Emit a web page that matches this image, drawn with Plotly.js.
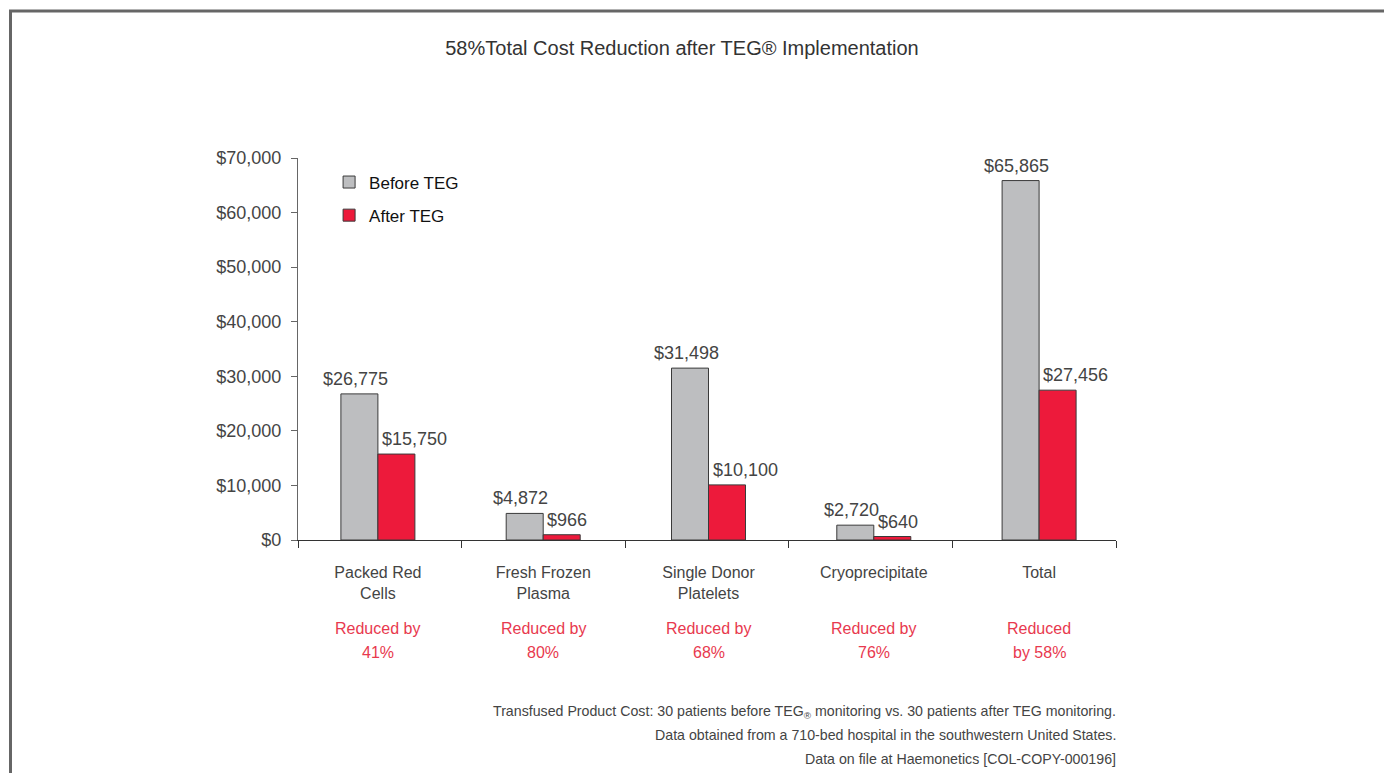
<!DOCTYPE html>
<html>
<head>
<meta charset="utf-8">
<script src="https://cdn.plot.ly/plotly-3.0.1.min.js"></script>
<style>
html,body{margin:0;padding:0;background:#fff;}
#chart{width:1384px;height:773px;}
</style>
</head>
<body>
<div id="chart"></div>
<script>
const categories = ["Packed Red<br>Cells", "Fresh Frozen<br>Plasma", "Single Donor<br>Platelets", "Cryoprecipitate", "Total"];
const beforeTEG = [26775, 4872, 31498, 2720, 65865];
const afterTEG = [15750, 966, 10100, 640, 27456];
const reductionLabels = ["Reduced by<br>41%", "Reduced by<br>80%", "Reduced by<br>68%", "Reduced by<br>76%", "Reduced<br>by 58%"];
const yTicks = [0, 10000, 20000, 30000, 40000, 50000, 60000, 70000];
const titleText = "58%Total Cost Reduction after TEG® Implementation";
const footnoteLines = [
  "Transfused Product Cost: 30 patients before TEG<sub>®</sub> monitoring vs. 30 patients after TEG monitoring.",
  "Data obtained from a 710-bed hospital in the southwestern United States.",
  "Data on file at Haemonetics [COL-COPY-000196]"
];

const FONT = "'Liberation Sans', Arial, sans-serif";
const W = 1384, H = 773;
const margin = {l: 298, r: 268, t: 158, b: 233};
const plotW = W - margin.l - margin.r;
const plotH = H - margin.t - margin.b;
// category pitch and centre used by the bar groups (pixels)
const catPx = 165.3, midPx = 708.5, barPx = 37;
const xRange = [(margin.l - midPx) / catPx + 2, (W - margin.r - midPx) / catPx + 2];
const bargap = 1 - 2 * barPx / catPx;

const fmt = v => "$" + v.toLocaleString("en-US");
const xIdx = categories.map((c, i) => i);

const traces = [
  {type: "bar", name: "Before TEG", x: xIdx, y: beforeTEG, legendgroup: "a",
   marker: {color: "#bdbec0", line: {color: "#3a3a3a", width: 1}}, hoverinfo: "y"},
  {type: "bar", name: "After TEG", x: xIdx, y: afterTEG, legendgroup: "b",
   marker: {color: "#ed1a3b", line: {color: "#3a3a3a", width: 1}}, hoverinfo: "y"},
  {type: "scatter", x: [0], y: [0], xaxis: "x2", yaxis: "y", mode: "markers",
   marker: {opacity: 0}, showlegend: false, hoverinfo: "skip"}
];

const annotations = [];
beforeTEG.forEach((v, i) => annotations.push({
  x: i, y: v, xref: "x", yref: "y", text: fmt(v), showarrow: false,
  xanchor: "center", yanchor: "bottom", xshift: -barPx / 2 - 4, yshift: 3,
  font: {family: FONT, size: 18, color: "#444"}
}));
afterTEG.forEach((v, i) => annotations.push({
  x: i, y: v, xref: "x", yref: "y", text: fmt(v), showarrow: false,
  xanchor: "left", yanchor: "bottom", xshift: 2, yshift: 3,
  font: {family: FONT, size: 18, color: "#444"}
}));
reductionLabels.forEach((t, i) => t.split("<br>").forEach((line, k) => annotations.push({
  x: i, y: 0, xref: "x", yref: "y", text: line, showarrow: false,
  xanchor: "center", yanchor: "middle", yshift: -(88 + 24 * k),
  font: {family: FONT, size: 16, color: "#e8394e"}
})));
footnoteLines.forEach((line, k) => annotations.push({
  x: 1, y: 0, xref: "paper", yref: "paper", text: line, showarrow: false,
  xanchor: "right", yanchor: "middle", align: "right", xshift: 2,
  yshift: -(171.5 + 23.5 * k),
  font: {family: FONT, size: 14.2, color: "#444"}
}));

const layout = {
  width: W, height: H,
  margin: Object.assign({autoexpand: false, pad: 0}, margin),
  paper_bgcolor: "#fff", plot_bgcolor: "rgba(0,0,0,0)",
  font: {family: FONT, color: "#444"},
  title: {text: titleText, x: 682 / W, xref: "container", xanchor: "center",
          y: 1 - 48 / H, yref: "container", yanchor: "middle",
          font: {family: FONT, size: 20, color: "#333"}},
  barmode: "group", bargap: bargap, bargroupgap: 0,
  showlegend: true,
  legend: {x: 0.038, y: 0.983, xanchor: "left", yanchor: "top",
           traceorder: "grouped", tracegroupgap: 8,
           font: {family: FONT, size: 17, color: "#111"}, bgcolor: "rgba(0,0,0,0)"},
  xaxis: {type: "linear", range: xRange,
          tickmode: "array", tickvals: xIdx, ticktext: categories,
          showline: true, linecolor: "#333", linewidth: 1,
          ticks: "", ticklabelstandoff: 18, showgrid: false, zeroline: false,
          tickfont: {family: FONT, size: 16, color: "#444"}},
  xaxis2: {overlaying: "x", anchor: "y", side: "bottom", range: [-0.5, 4.5],
           tickmode: "array", tickvals: [-0.5, 0.5, 1.5, 2.5, 3.5, 4.5], showticklabels: false,
           ticks: "outside", ticklen: 7, tickcolor: "#333", showgrid: false, zeroline: false,
           showline: false},
  yaxis: {range: [0, 70000], tickmode: "array", tickvals: yTicks,
          ticktext: yTicks.map(fmt),
          showline: true, linecolor: "#666", linewidth: 1,
          ticks: "outside", ticklen: 6, tickcolor: "#666", ticklabelstandoff: 6,
          showgrid: false, zeroline: false,
          tickfont: {family: FONT, size: 18, color: "#444"}},
  annotations: annotations,
  shapes: [{type: "rect", xref: "paper", yref: "paper", layer: "below",
            x0: (10.5 - margin.l) / plotW, x1: 1.6,
            y0: -1.2, y1: (plotH + margin.t - 11) / plotH,
            line: {color: "#666", width: 3}, fillcolor: "rgba(0,0,0,0)"}]
};

Plotly.newPlot("chart", traces, layout, {displayModeBar: false, staticPlot: true});
</script>
</body>
</html>
